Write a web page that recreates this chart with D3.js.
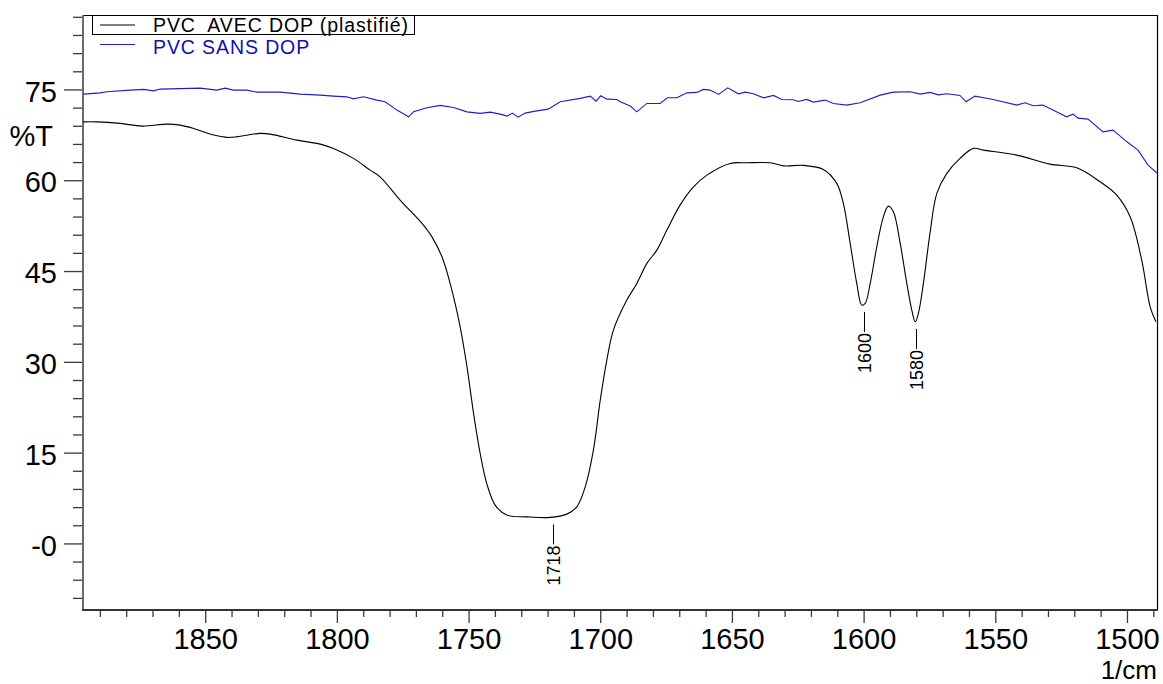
<!DOCTYPE html>
<html>
<head>
<meta charset="utf-8">
<script src="https://cdn.jsdelivr.net/npm/d3@7"></script>
<style>
  html, body { margin: 0; padding: 0; background: #fff; }
  svg { display: block; font-family: "Liberation Sans", Arial, sans-serif; }
</style>
</head>
<body>
<svg id="chart" width="1163" height="684"></svg>
<script>
// ---- data (wavenumber 1/cm, transmittance %T) ----
const avecX = [1896.3,1891.1,1882.3,1874.0,1864.5,1859.5,1854.4,1846.8,1841.8,1838.0,1829.1,1825.3,1815.2,1806.3,1801.3,1793.7,1787.4,1783.6,1776.0,1767.7,1763.9,1760.1,1757.0,1753.2,1750.6,1748.1,1745.6,1743.1,1739.9,1735.5,1727.9,1719.0,1712.7,1708.9,1705.7,1702.6,1700.0,1697.5,1695.0,1689.9,1686.1,1682.3,1678.5,1674.7,1669.7,1664.6,1659.5,1650.7,1644.3,1635.5,1630.4,1622.9,1615.3,1610.2,1607.7,1605.1,1602.6,1600.7,1599.4,1597.5,1595.0,1592.5,1590.6,1588.7,1586.1,1583.6,1581.7,1580.4,1579.2,1577.3,1574.8,1572.2,1568.4,1563.4,1558.3,1554.6,1541.8,1529.2,1519.1,1510.2,1503.9,1498.8,1494.4,1491.2,1489.0];
const avecY = [69.65,69.65,69.39,68.94,69.27,69.11,68.56,67.46,67.08,67.17,67.74,67.62,66.63,65.97,65.26,63.61,61.67,60.57,56.72,52.87,50.65,47.35,42.95,35.78,29.18,21.48,14.87,9.91,6.33,4.68,4.39,4.30,4.84,6.05,9.35,15.41,23.67,30.28,35.24,40.2,42.95,46.26,48.46,51.76,55.89,58.91,60.85,62.78,62.88,62.88,62.38,62.45,61.79,59.48,56.17,49.56,42.95,39.37,39.65,42.95,49.0,53.96,55.72,54.78,49.56,42.95,38.54,36.61,38.0,42.95,51.22,57.82,61.13,63.61,65.26,64.98,64.15,62.66,62.05,59.74,57.54,53.96,46.8,39.09,36.61];

const sansX = [1896.2,1889.9,1887.3,1878.5,1873.4,1869.6,1867.1,1851.9,1845.6,1842.4,1839.3,1834.2,1830.4,1821.5,1813.9,1806.3,1801.3,1796.2,1793.7,1789.9,1784.8,1781.7,1777.2,1772.8,1770.9,1765.8,1760.8,1755.7,1750.6,1745.6,1741.8,1738.0,1735.3,1733.4,1731.2,1728.5,1724.7,1719.8,1715.2,1707.6,1703.8,1701.6,1699.8,1697.5,1693.7,1692.4,1688.6,1686.1,1682.3,1677.3,1674.5,1670.9,1667.1,1663.3,1660.8,1658.3,1655.1,1651.6,1647.5,1645.0,1641.8,1638.0,1634.2,1631.1,1626.7,1624.8,1621.6,1619.1,1614.6,1611.5,1606.4,1601.3,1593.7,1588.7,1582.3,1578.5,1574.8,1571.6,1568.4,1563.4,1561.1,1557.7,1550.8,1541.8,1538.7,1535.6,1531.9,1522.9,1520.5,1518.6,1514.8,1509.1,1505.3,1500.0,1495.8,1492.0,1488.6];
const sansY = [74.23,74.44,74.61,74.89,75.01,74.77,75.06,75.22,74.89,75.22,74.89,74.89,74.56,74.56,74.23,74.06,73.9,73.78,73.45,73.78,73.24,72.96,71.59,70.48,71.3,71.97,72.36,72.03,71.3,71.04,71.25,70.92,70.59,71.09,70.43,71.09,71.42,71.75,72.96,73.52,73.9,73.07,73.95,73.4,73.35,72.96,72.25,71.3,72.69,72.69,73.62,73.62,74.44,74.51,75.01,74.89,74.18,75.27,74.28,74.56,74.28,73.62,74.01,73.35,73.29,73.02,73.35,72.91,73.24,72.69,72.41,72.79,74.06,74.56,74.61,74.23,74.51,74.11,74.28,74.01,72.96,73.9,73.35,72.41,72.79,72.3,72.41,70.48,70.92,70.26,70.1,68.0,68.28,66.35,64.98,62.5,61.18];

const seriesNames = ["PVC  AVEC DOP (plastifié)", "PVC SANS DOP"];
const seriesColors = ["#000000", "#1e1ec8"];
const legendTextColors = ["#000000", "#1010b0"];

const xMajorTicks = [1850, 1800, 1750, 1700, 1650, 1600, 1550, 1500];
const xTickLabels = ["1850", "1800", "1750", "1700", "1650", "1600", "1550", "1500"];
const yMajorTicks = [0, 15, 30, 45, 60, 75];
const yTickLabels = ["-0", "15", "30", "45", "60", "75"];

const peakPositions = [1718, 1600, 1580];
const peakMinima = [4.3, 39.4, 36.6];
const peakLabels = ["1718", "1600", "1580"];

const xDomain = [1896.4, 1488.6];
const yDomain = [-11.0, 87.3];

// ---- layout ----
const L = 83, R = 1157, T = 15, B = 610;
const svg = d3.select("#chart");
const x = d3.scaleLinear().domain(xDomain).range([L, R]);
const y = d3.scaleLinear().domain(yDomain).range([B, T]);

svg.append("defs").append("clipPath").attr("id", "plotclip")
  .append("rect").attr("x", L).attr("y", T).attr("width", R - L).attr("height", B - T);

// frame: top and right in black
svg.append("line").attr("x1", L).attr("x2", R).attr("y1", T + 0.5).attr("y2", T + 0.5)
  .attr("stroke", "#000").attr("stroke-width", 1);
svg.append("line").attr("x1", R + 0.5).attr("x2", R + 0.5).attr("y1", T).attr("y2", B)
  .attr("stroke", "#000").attr("stroke-width", 1.2);

// minor ticks
const xMinor = d3.range(1890, 1488, -10).filter(v => !xMajorTicks.includes(v));
const yMinor = d3.range(-9, 87.3, 3).filter(v => !yMajorTicks.includes(v));

const xAxisMinor = d3.axisBottom(x).tickValues(xMinor).tickSize(7).tickSizeOuter(0).tickFormat("");
const xAxisMajor = d3.axisBottom(x).tickValues(xMajorTicks).tickSize(13).tickSizeOuter(0).tickPadding(5)
  .tickFormat((d, i) => xTickLabels[i]);
const yAxisMinor = d3.axisLeft(y).tickValues(yMinor).tickSize(10).tickSizeOuter(0).tickFormat("");
const yAxisMajor = d3.axisLeft(y).tickValues(yMajorTicks).tickSize(19).tickSizeOuter(0).tickPadding(7)
  .tickFormat((d, i) => yTickLabels[i]);

function styleAxis(g) {
  g.select(".domain").remove();
  g.selectAll(".tick line").attr("stroke", "#3a3a3a").attr("stroke-width", 1.3);
  g.selectAll(".tick text").attr("fill", "#000").style("font-size", "29px")
    .style("font-family", "'Liberation Sans', Arial, sans-serif");
}
svg.append("g").attr("transform", `translate(0,${B})`).call(xAxisMinor).call(styleAxis);
svg.append("g").attr("transform", `translate(0,${B})`).call(xAxisMajor).call(styleAxis);
svg.append("g").attr("transform", `translate(${L},0)`).call(yAxisMinor).call(styleAxis);
const yg = svg.append("g").attr("transform", `translate(${L},0)`).call(yAxisMajor).call(styleAxis);
yg.selectAll(".tick text").attr("dy", "0.40em");

// axis lines
svg.append("line").attr("x1", L).attr("x2", L).attr("y1", T).attr("y2", B + 1)
  .attr("stroke", "#6a6a6a").attr("stroke-width", 2);
svg.append("line").attr("x1", L - 1).attr("x2", R + 1).attr("y1", B).attr("y2", B)
  .attr("stroke", "#333").attr("stroke-width", 2);

// axis titles
svg.append("text").attr("x", 53).attr("y", 136).attr("dy", "0.36em").attr("text-anchor", "end")
  .style("font-size", "29px").attr("fill", "#000").text("%T");
svg.append("text").attr("x", 1157).attr("y", 678.5).attr("text-anchor", "end")
  .style("font-size", "26px").attr("fill", "#000").text("1/cm");

// curves
const plot = svg.append("g").attr("clip-path", "url(#plotclip)");
const avec = avecX.map((v, i) => [v, avecY[i]]);
const sans = sansX.map((v, i) => [v, sansY[i]]);

plot.append("path").datum(sans)
  .attr("d", d3.line().x(d => x(d[0])).y(d => y(d[1])).curve(d3.curveLinear))
  .attr("fill", "none").attr("stroke", seriesColors[1]).attr("stroke-width", 1.1);
plot.append("path").datum(avec)
  .attr("d", d3.line().x(d => x(d[0])).y(d => y(d[1])).curve(d3.curveCatmullRom.alpha(0.5)))
  .attr("fill", "none").attr("stroke", seriesColors[0]).attr("stroke-width", 1.1);

// peak annotations
peakPositions.forEach((p, i) => {
  const px = Math.round(x(p)) + 0.5;
  const y0 = y(peakMinima[i]) + 7;
  const y1 = y0 + 20;
  svg.append("line").attr("x1", px).attr("x2", px).attr("y1", y0).attr("y2", y1)
    .attr("stroke", "#000").attr("stroke-width", 1);
  svg.append("text")
    .attr("transform", `translate(${px + 6},${y1 + 1}) rotate(-90)`)
    .attr("text-anchor", "end")
    .style("font-size", "18px").attr("fill", "#000").text(peakLabels[i]);
});

// legend
const lg = svg.append("g");
lg.append("rect").attr("x", 92.5).attr("y", 15.5).attr("width", 322).attr("height", 19)
  .attr("fill", "#fff").attr("stroke", "#000").attr("stroke-width", 1);
const legendY = [25, 44.5];
const legendBase = [32, 54];
seriesNames.forEach((n, i) => {
  lg.append("line").attr("x1", 100).attr("x2", 135).attr("y1", legendY[i]).attr("y2", legendY[i])
    .attr("stroke", seriesColors[i]).attr("stroke-width", 1.1);
  lg.append("text").attr("x", 153).attr("y", legendBase[i])
    .attr("xml:space", "preserve").style("white-space", "pre")
    .style("letter-spacing", "0.9px")
    .style("font-size", "19.5px").attr("fill", legendTextColors[i]).text(n);
});
</script>
</body>
</html>
